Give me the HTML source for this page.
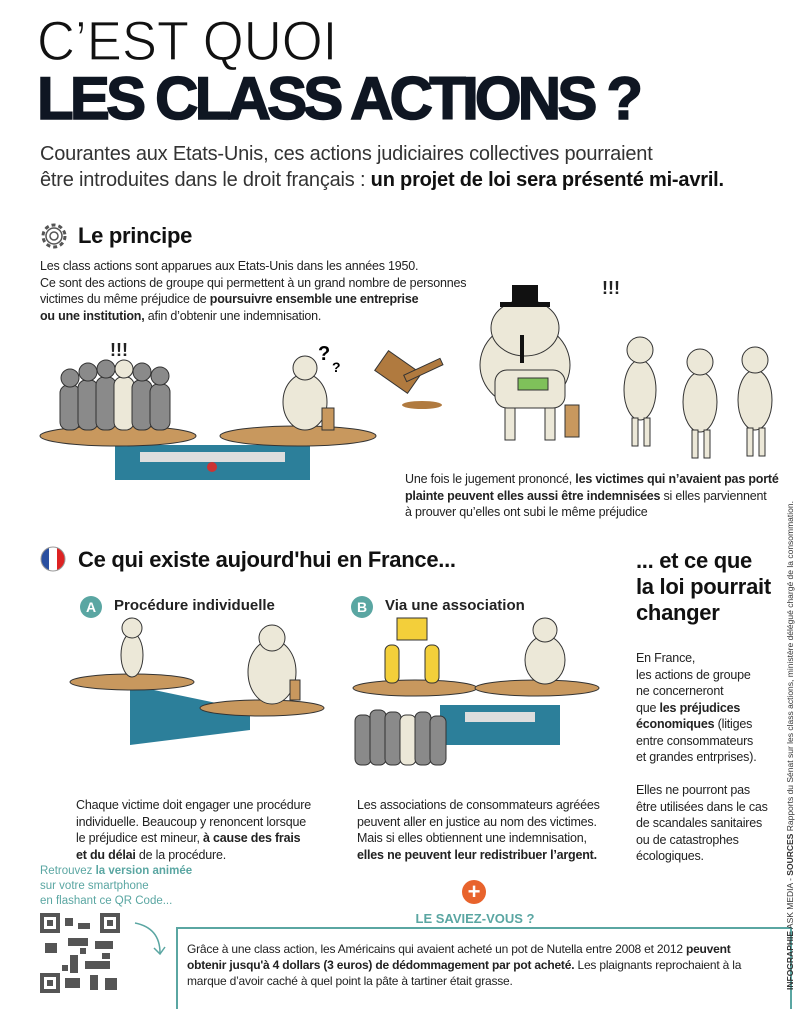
<!DOCTYPE html>
<html><head><meta charset="utf-8">
<style>
body{margin:0;width:800px;height:1000px;background:#fff;font-family:"Liberation Sans",sans-serif;color:#222;position:relative;overflow:hidden}
.a{position:absolute}
svg{overflow:visible}
b{font-weight:bold}
.t{font-size:12.5px;line-height:16.5px;color:#222;white-space:nowrap;letter-spacing:-0.2px}
.h{font-weight:bold;font-size:22px;color:#111;letter-spacing:-0.3px}
</style></head><body>
<div class="a" style="left:37px;top:13px;font-size:56px;font-weight:normal;color:#111;line-height:56px;white-space:nowrap;transform:scaleX(0.94);transform-origin:left;-webkit-text-stroke:1.2px #fff">C’EST QUOI</div>
<div class="a" style="left:37px;top:69px;font-size:60px;font-weight:bold;color:#0f1622;line-height:60px;white-space:nowrap;-webkit-text-stroke:1.5px #0f1622;letter-spacing:-3.8px">LES CLASS ACTIONS ?</div>
<div class="a" style="left:40px;top:141px;font-size:20px;line-height:26px;color:#333;white-space:nowrap;letter-spacing:-0.2px">Courantes aux Etats-Unis, ces actions judiciaires collectives pourraient<br>être introduites dans le droit français : <b style="color:#111">un projet de loi sera présenté mi-avril.</b></div>

<svg class="a" style="left:38px;top:220px" width="32" height="32" viewBox="0 0 32 32"><circle cx="16" cy="16" r="11" fill="none" stroke="#555" stroke-width="3" stroke-dasharray="4 3"/><circle cx="16" cy="16" r="8" fill="none" stroke="#555" stroke-width="1.5"/><circle cx="16" cy="16" r="4" fill="none" stroke="#555" stroke-width="1.5"/></svg>
<div class="a h" style="left:78px;top:223px">Le principe</div>
<div class="a t" style="left:40px;top:258px">Les class actions sont apparues aux Etats-Unis dans les années 1950.<br>Ce sont des actions de groupe qui permettent à un grand nombre de personnes<br>victimes du même préjudice de <b>poursuivre ensemble une entreprise<br>ou une institution,</b> afin d’obtenir une indemnisation.</div>

<svg class="a" style="left:0px;top:330px" width="800" height="150">
<g>
<rect x="115" y="115" width="195" height="35" fill="#2c7f9a"/><rect x="140" y="122" width="145" height="10" fill="#ddd"/>
<circle cx="212" cy="137" r="5" fill="#c33"/>
<ellipse cx="118" cy="106" rx="78" ry="10" fill="#c8985e" stroke="#333"/>
<ellipse cx="298" cy="106" rx="78" ry="10" fill="#c8985e" stroke="#333"/>
</g>
<g fill="#8a8a8a" stroke="#333">
<rect x="60" y="55" width="20" height="45" rx="8"/><rect x="78" y="50" width="20" height="50" rx="8"/><rect x="96" y="47" width="20" height="53" rx="8"/><rect x="114" y="47" width="20" height="53" rx="8" fill="#ece8d8"/><rect x="132" y="50" width="20" height="50" rx="8"/><rect x="150" y="54" width="20" height="46" rx="8"/>
<circle cx="70" cy="48" r="9"/><circle cx="88" cy="42" r="9"/><circle cx="106" cy="39" r="9"/><circle cx="124" cy="39" r="9" fill="#ece8d8"/><circle cx="142" cy="42" r="9"/><circle cx="160" cy="46" r="9"/>
</g>
<text x="110" y="26" font-size="18" font-weight="bold" fill="#222">!!!</text>
<g fill="#ece8d8" stroke="#333"><ellipse cx="305" cy="72" rx="22" ry="28"/><circle cx="305" cy="38" r="12"/><rect x="322" y="78" width="12" height="22" fill="#c8985e"/></g>
<text x="318" y="30" font-size="20" font-weight="bold">?</text><text x="332" y="42" font-size="14" font-weight="bold">?</text>
<g><rect x="378" y="30" width="40" height="24" transform="rotate(35 398 42)" fill="#b07a3f" stroke="#333"/><rect x="405" y="45" width="40" height="7" transform="rotate(-25 405 48)" fill="#b07a3f" stroke="#333"/><ellipse cx="422" cy="75" rx="20" ry="4" fill="#b07a3f"/></g>
<g fill="#ece8d8" stroke="#333">
<rect x="505" y="70" width="10" height="40"/><rect x="545" y="70" width="10" height="40"/>
<ellipse cx="525" cy="35" rx="45" ry="42"/><ellipse cx="525" cy="-2" rx="34" ry="28"/><rect x="495" y="40" width="70" height="38" rx="12"/>
<rect x="518" y="48" width="30" height="12" fill="#7fc15a"/>
<rect x="565" y="75" width="14" height="32" fill="#c8985e"/>
<ellipse cx="640" cy="60" rx="16" ry="30"/><circle cx="640" cy="20" r="13"/><rect x="632" y="88" width="6" height="28"/><rect x="644" y="88" width="6" height="28"/>
<ellipse cx="700" cy="72" rx="17" ry="30"/><circle cx="700" cy="32" r="13"/><rect x="692" y="100" width="6" height="28"/><rect x="704" y="100" width="6" height="28"/>
<ellipse cx="755" cy="70" rx="17" ry="30"/><circle cx="755" cy="30" r="13"/><rect x="747" y="98" width="6" height="28"/><rect x="759" y="98" width="6" height="28"/></g>
<path d="M500 -28 h50 v5 h-50z M512 -45 h26 v18 h-26z" fill="#111"/>
<path d="M522 5 v28" stroke="#111" stroke-width="4"/>
</svg>
<div class="a" style="left:602px;top:278px;font-size:18px;font-weight:bold">!!!</div>
<div class="a t" style="left:405px;top:471px">Une fois le jugement prononcé, <b>les victimes qui n’avaient pas porté<br>plainte peuvent elles aussi être indemnisées</b> si elles parviennent<br>à prouver qu’elles ont subi le même préjudice</div>

<svg class="a" style="left:40px;top:546px" width="26" height="26"><clipPath id="c"><circle cx="13" cy="13" r="12"/></clipPath><g clip-path="url(#c)"><rect x="0" y="0" width="9" height="26" fill="#2a4fa0"/><rect x="9" y="0" width="8" height="26" fill="#fff"/><rect x="17" y="0" width="9" height="26" fill="#d22"/></g><circle cx="13" cy="13" r="12" fill="none" stroke="#999"/></svg>
<div class="a h" style="left:78px;top:547px">Ce qui existe aujourd'hui en France...</div>
<div class="a h" style="left:636px;top:548px;line-height:26px;white-space:nowrap">... et ce que<br>la loi pourrait<br>changer</div>

<div class="a" style="left:80px;top:596px;width:22px;height:22px;border-radius:50%;background:#5aa6a2;color:#fff;font-weight:bold;font-size:14px;text-align:center;line-height:22px">A</div>
<div class="a" style="left:114px;top:597px;font-weight:bold;font-size:15px">Procédure individuelle</div>
<div class="a" style="left:351px;top:596px;width:22px;height:22px;border-radius:50%;background:#5aa6a2;color:#fff;font-weight:bold;font-size:14px;text-align:center;line-height:22px">B</div>
<div class="a" style="left:385px;top:597px;font-weight:bold;font-size:15px">Via une association</div>

<svg class="a" style="left:0px;top:620px" width="640" height="160">
<path d="M130 65 L250 90 L250 110 L130 125 Z" fill="#2c7f9a"/>
<ellipse cx="132" cy="62" rx="62" ry="8" fill="#c8985e" stroke="#333"/>
<ellipse cx="262" cy="88" rx="62" ry="8" fill="#c8985e" stroke="#333"/>
<g fill="#ece8d8" stroke="#333"><ellipse cx="132" cy="35" rx="11" ry="22"/><circle cx="132" cy="8" r="10"/>
<ellipse cx="272" cy="52" rx="24" ry="32"/><circle cx="272" cy="18" r="13"/><rect x="290" y="60" width="10" height="20" fill="#c8985e"/></g>
<rect x="440" y="85" width="120" height="40" fill="#2c7f9a"/><rect x="465" y="92" width="70" height="10" fill="#ddd"/>
<ellipse cx="415" cy="68" rx="62" ry="8" fill="#c8985e" stroke="#333"/>
<ellipse cx="537" cy="68" rx="62" ry="8" fill="#c8985e" stroke="#333"/>
<g fill="#f3cf3a" stroke="#333"><rect x="385" y="25" width="14" height="38" rx="6"/><rect x="425" y="25" width="14" height="38" rx="6"/><rect x="397" y="-2" width="30" height="22"/></g>
<g fill="#ece8d8" stroke="#333"><ellipse cx="545" cy="40" rx="20" ry="24"/><circle cx="545" cy="10" r="12"/></g>
<g fill="#8a8a8a" stroke="#333"><rect x="355" y="95" width="16" height="50" rx="6"/><rect x="370" y="90" width="16" height="55" rx="6"/><rect x="385" y="92" width="16" height="53" rx="6"/><rect x="400" y="95" width="16" height="50" rx="6" fill="#ece8d8"/><rect x="415" y="92" width="16" height="53" rx="6"/><rect x="430" y="96" width="16" height="49" rx="6"/></g>
</svg>

<div class="a t" style="left:76px;top:797px">Chaque victime doit engager une procédure<br>individuelle. Beaucoup y renoncent lorsque<br>le préjudice est mineur, <b>à cause des frais<br>et du délai</b> de la procédure.</div>
<div class="a t" style="left:357px;top:797px">Les associations de consommateurs agréées<br>peuvent aller en justice au nom des victimes.<br>Mais si elles obtiennent une indemnisation,<br><b>elles ne peuvent leur redistribuer l’argent.</b></div>
<div class="a t" style="left:636px;top:650px">En France,<br>les actions de groupe<br>ne concerneront<br>que <b>les préjudices<br>économiques</b> (litiges<br>entre consommateurs<br>et grandes entrprises).<br><br>Elles ne pourront pas<br>être utilisées dans le cas<br>de scandales sanitaires<br>ou de catastrophes<br>écologiques.</div>

<div class="a" style="left:40px;top:864px;font-size:11.5px;line-height:15px;color:#5aa6a2;white-space:nowrap">Retrouvez <b>la version animée</b><br>sur votre smartphone<br>en flashant ce QR Code...</div>
<svg class="a" style="left:40px;top:913px" width="80" height="80"><rect width="80" height="80" fill="#fff"/><g fill="#555"><rect x="0" y="0" width="20" height="20"/><rect x="60" y="0" width="20" height="20"/><rect x="0" y="60" width="20" height="20"/><rect x="25" y="5" width="8" height="8"/><rect x="38" y="10" width="12" height="6"/><rect x="28" y="25" width="20" height="8"/><rect x="5" y="30" width="12" height="10"/><rect x="55" y="28" width="18" height="8"/><rect x="30" y="42" width="8" height="18"/><rect x="45" y="48" width="25" height="8"/><rect x="25" y="65" width="15" height="10"/><rect x="50" y="62" width="8" height="15"/><rect x="65" y="65" width="12" height="12"/><rect x="22" y="52" width="6" height="6"/><rect x="40" y="35" width="6" height="6"/><rect x="62" y="40" width="8" height="6"/></g><g fill="#fff"><rect x="4" y="4" width="12" height="12"/><rect x="64" y="4" width="12" height="12"/><rect x="4" y="64" width="12" height="12"/></g><g fill="#555"><rect x="7" y="7" width="6" height="6"/><rect x="67" y="7" width="6" height="6"/><rect x="7" y="67" width="6" height="6"/></g></svg>
<svg class="a" style="left:130px;top:918px" width="40" height="40"><path d="M5 5 Q30 10 30 35" fill="none" stroke="#5aa6a2" stroke-width="1.5"/><path d="M24 30 L30 36 L35 29" fill="none" stroke="#5aa6a2" stroke-width="1.5"/></svg>

<div class="a" style="left:176px;top:927px;width:612px;height:80px;border:2px solid #5aa6a2;border-bottom:none"></div>
<div class="a" style="left:462px;top:880px;width:24px;height:24px;border-radius:50%;background:#e8632c;color:#fff;font-weight:bold;font-size:22px;text-align:center;line-height:24px;box-shadow:0 0 0 6px #fff">+</div>
<div class="a" style="left:400px;top:911px;width:150px;text-align:center;background:#fff;color:#5aa6a2;font-weight:bold;font-size:13px">LE SAVIEZ-VOUS ?</div>
<div class="a t" style="left:187px;top:941px;font-size:12px;line-height:16px">Grâce à une class action, les Américains qui avaient acheté un pot de Nutella entre 2008 et 2012 <b>peuvent<br>obtenir jusqu'à 4 dollars (3 euros) de dédommagement par pot acheté.</b> Les plaignants reprochaient à la<br>marque d’avoir caché à quel point la pâte à tartiner était grasse.</div>

<div class="a" style="left:785px;top:990px;transform:rotate(-90deg);transform-origin:left top;white-space:nowrap;font-size:8.5px;color:#333"><b>INFOGRAPHIE</b> ASK MEDIA - <b>SOURCES</b> Rapports du Sénat sur les class actions, ministère délégué chargé de la consommation.</div>
</body></html>
